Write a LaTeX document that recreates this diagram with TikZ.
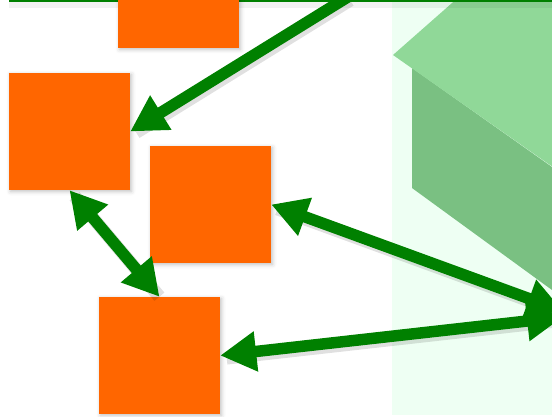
\documentclass[tikz,border=0pt]{standalone}
\usetikzlibrary{arrows.meta,shadows.blur}
\definecolor{arrgreen}{RGB}{0,128,0}
\definecolor{sqorange}{RGB}{255,102,0}
\definecolor{mint}{RGB}{238,255,243}
\definecolor{boxtop}{RGB}{144,216,152}
\definecolor{boxside}{RGB}{122,192,130}
\tikzset{
  sq/.style={fill=sqorange, draw=none, minimum width=121pt, minimum height=117pt, inner sep=0pt,
    blur shadow={shadow xshift=1.5pt, shadow yshift=-1.5pt, shadow blur radius=4pt, shadow opacity=25}},
  garrow/.style={draw=arrgreen, line width=11.5pt, -{Triangle[length=36pt,width=38pt]}},
  gdarrow/.style={draw=arrgreen, line width=11.5pt, {Triangle[length=36pt,width=38pt]}-{Triangle[length=36pt,width=38pt]}},
  shd/.style={draw=black, draw opacity=0.12, line width=13pt, shorten <=4pt, shorten >=4pt}
}
\begin{document}
\begin{tikzpicture}[x=1pt,y=-1pt]
\useasboundingbox (0,0) rectangle (552,417);
\begin{scope}
\clip (0,0) rectangle (552,417);
% mint background panel
\fill[mint] (392,0) rectangle (552,415);
% 3D box faces
\fill[boxside] (412,68) -- (552,167) -- (552,290) -- (412,188) -- cycle;
\fill[boxtop] (393,55) -- (460,-4) -- (560,-4) -- (560,172) -- cycle;
% top bar with shadow
\fill[black, opacity=0.05] (9,2) rectangle (552,8);
\fill[arrgreen] (9,-1) rectangle (552,2.5);
% squares
\node[sq] (sqA) at (178.5,-10.5) {};
\node[sq] (sqB) at (69.5,131.5) {};
\node[sq] (sqC) at (210.5,204.5) {};
\node[sq] (sqD) at (159.5,355.5) {};
% free ends
\coordinate (top) at (351,-5);
\coordinate (r1) at (563,311);
\coordinate (r2) at (563,317);
% arrow shadows
\begin{scope}[transform canvas={shift={(2.5pt,-3pt)}}]
\draw[shd] (top) -- (sqB.east);
\draw[shd] (sqB.south) -- (sqD.north);
\draw[shd] (sqC.east) -- (r1);
\draw[shd] (sqD.east) -- (r2);
\end{scope}
% arrows
\draw[garrow] (top) -- (sqB.east);
\draw[gdarrow] (sqB.south) -- (sqD.north);
\draw[gdarrow] (sqC.east) -- (r1);
\draw[gdarrow] (sqD.east) -- (r2);
\end{scope}
\end{tikzpicture}
\end{document}
